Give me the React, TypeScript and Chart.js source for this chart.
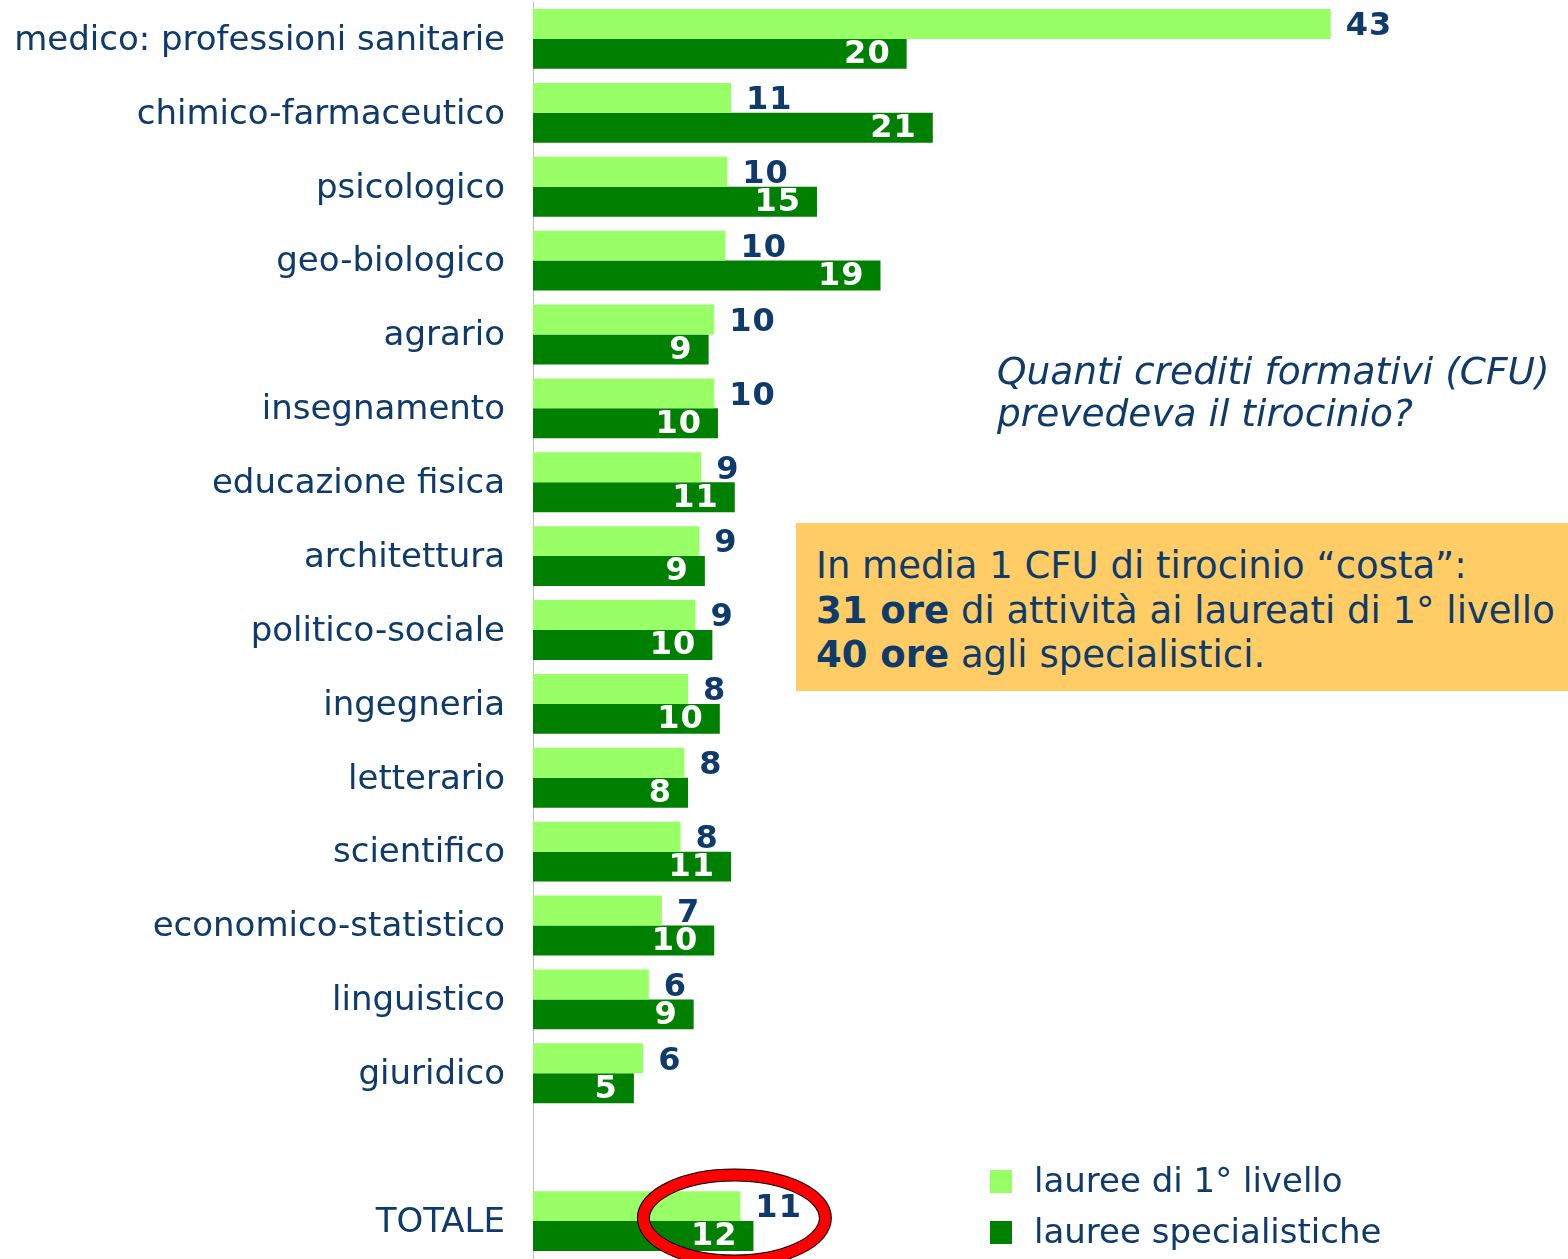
import React, { useEffect, useRef } from "react";
import { Chart, registerables } from "chart.js";

Chart.register(...registerables);

const categories = [
  "medico: professioni sanitarie",
  "chimico-farmaceutico",
  "psicologico",
  "geo-biologico",
  "agrario",
  "insegnamento",
  "educazione fisica",
  "architettura",
  "politico-sociale",
  "ingegneria",
  "letterario",
  "scientifico",
  "economico-statistico",
  "linguistico",
  "giuridico",
  "",
  "TOTALE",
];
const primoLivello = [42.7, 10.6, 10.4, 10.3, 9.7, 9.7, 9.0, 8.9, 8.7, 8.3, 8.1, 7.9, 6.9, 6.2, 5.9, null, 11.1];
const specialistiche = [20.0, 21.4, 15.2, 18.6, 9.4, 9.9, 10.8, 9.2, 9.6, 10.0, 8.3, 10.6, 9.7, 8.6, 5.4, null, 11.8];
const seriesLabels = ["lauree di 1° livello", "lauree specialistiche"];
const seriesColors = ["#99FF66", "#008000"];

const NAVY = "#0E3A6C";
const FONT = "'DejaVu Sans'";

const labelPlugin = {
  id: "valueLabels",
  beforeDatasetsDraw(chart: any) {
    const ctx = chart.ctx;
    const meta = chart.getDatasetMeta(0);
    const data = chart.data.datasets[0].data;
    ctx.save();
    ctx.font = `bold 32px ${FONT}`;
    (ctx as any).letterSpacing = "1px";
    ctx.fillStyle = NAVY;
    ctx.textAlign = "left";
    ctx.textBaseline = "middle";
    meta.data.forEach((el: any, i: number) => {
      const v = data[i];
      if (v == null) return;
      ctx.fillText(String(Math.round(v)), el.x + 15, el.y + 3);
    });
    ctx.restore();
  },
  afterDatasetsDraw(chart: any) {
    const ctx = chart.ctx;
    const meta1 = chart.getDatasetMeta(1);
    const data1 = chart.data.datasets[1].data;
    ctx.save();
    ctx.font = `bold 32px ${FONT}`;
    (ctx as any).letterSpacing = "1px";
    ctx.fillStyle = "#FFFFFF";
    ctx.textAlign = "right";
    ctx.textBaseline = "middle";
    meta1.data.forEach((el: any, i: number) => {
      const v = data1[i];
      if (v == null) return;
      ctx.fillText(String(Math.round(v)), el.x - 16, el.y + 1);
    });
    ctx.restore();

    // red ellipse around the TOTALE values
    const meta0 = chart.getDatasetMeta(0);
    const last = categories.length - 1;
    const e0 = meta0.data[last];
    const e1 = meta1.data[last];
    const cx = e0.x - 6;
    const cy = (e0.y + e1.y) / 2 - 3;
    ctx.save();
    ctx.beginPath();
    ctx.ellipse(cx, cy, 91, 43, 0, 0, Math.PI * 2);
    ctx.lineWidth = 13;
    ctx.strokeStyle = "#000000";
    ctx.stroke();
    ctx.lineWidth = 11;
    ctx.strokeStyle = "#FF0000";
    ctx.stroke();
    ctx.restore();
  },
  afterDraw(chart: any) {
    const ctx = chart.ctx;
    ctx.save();
    ctx.font = `34px ${FONT}`;
    ctx.textAlign = "left";
    ctx.textBaseline = "alphabetic";
    const rows = [1170, 1221];
    seriesLabels.forEach((lab, i) => {
      ctx.fillStyle = seriesColors[i];
      ctx.fillRect(990, rows[i], 22, 23);
      ctx.fillStyle = NAVY;
      ctx.fillText(lab, 1034, rows[i] + 22);
    });
    ctx.restore();
  },
};

function BarChart() {
  const ref = useRef<HTMLCanvasElement | null>(null);
  useEffect(() => {
    if (!ref.current) return;
    const chart = new Chart(ref.current, {
      type: "bar",
      data: {
        labels: categories,
        datasets: [
          {
            label: seriesLabels[0],
            data: primoLivello as any,
            backgroundColor: seriesColors[0],
            categoryPercentage: 0.81,
            barPercentage: 1,
          },
          {
            label: seriesLabels[1],
            data: specialistiche as any,
            backgroundColor: seriesColors[1],
            categoryPercentage: 0.81,
            barPercentage: 1,
          },
        ],
      },
      options: {
        indexAxis: "y",
        responsive: false,
        animation: false,
        devicePixelRatio: 1,
        layout: { padding: { top: 2, bottom: 1, left: 0, right: 0 } },
        plugins: {
          legend: { display: false },
          tooltip: { enabled: false },
        },
        scales: {
          x: { display: false, min: 0, max: 55.4 },
          y: {
            grid: { display: false, drawTicks: false },
            border: { display: true, color: "#BFBFBF", width: 1 },
            ticks: {
              color: NAVY,
              font: { family: FONT, size: 34 },
              padding: 28,
              labelOffset: 2,
              autoSkip: false,
            },
            afterFit: (scale: any) => {
              scale.width = 533;
              scale.paddingTop = 0;
              scale.paddingBottom = 0;
            },
          },
        },
      } as any,
      plugins: [labelPlugin as any],
    });
    return () => chart.destroy();
  }, []);
  return <canvas ref={ref} width={1568} height={1259} style={{ display: "block" }} />;
}

export default function App() {
  return (
    <div
      style={{
        position: "absolute",
        left: 0,
        top: 0,
        width: 1568,
        height: 1259,
        overflow: "hidden",
        background: "#FFFFFF",
        fontFamily: FONT,
        color: NAVY,
      }}
    >
      <BarChart />
      <div
        style={{
          position: "absolute",
          left: 997,
          top: 350,
          fontStyle: "italic",
          fontSize: 37.5,
          lineHeight: "42px",
          whiteSpace: "nowrap",
        }}
      >
        Quanti crediti formativi (CFU)
        <br />
        prevedeva il tirocinio?
      </div>
      <div
        style={{
          position: "absolute",
          left: 796,
          top: 523,
          width: 772,
          height: 168,
          background: "#FFCC66",
          boxSizing: "border-box",
          paddingLeft: 20,
          paddingTop: 21,
          fontSize: 37,
          lineHeight: "44.5px",
          whiteSpace: "nowrap",
        }}
      >
        In media 1 CFU di tirocinio “costa”:
        <br />
        <b>31 ore</b> di attività ai laureati di 1° livello
        <br />
        <b>40 ore</b> agli specialistici.
      </div>
    </div>
  );
}
